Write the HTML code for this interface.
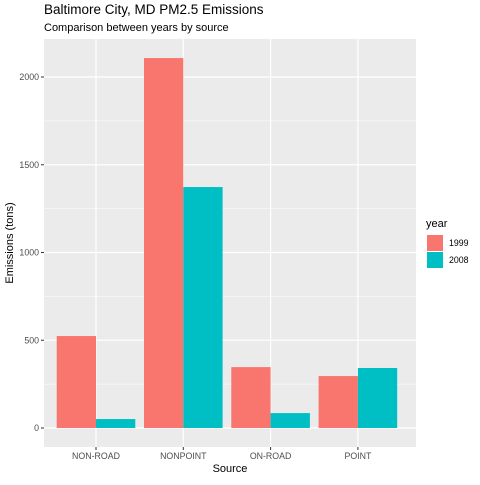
<!DOCTYPE html>
<html><head><meta charset="utf-8"><style>
body{margin:0;background:#fff;font-family:"Liberation Sans",sans-serif}
</style></head><body>
<svg id="c" width="480" height="480" xmlns="http://www.w3.org/2000/svg">
<text x="44" y="14" font-size="13.5" fill="#000">Baltimore City, MD PM2.5 Emissions</text>
<text x="44" y="31" font-size="11" fill="#000">Comparison between years by source</text>
<rect x="44" y="39" width="372" height="408" fill="#ebebeb"/>
<g id="grid"></g><g id="bars"></g><g id="axes"></g>
<text x="230" y="472" font-size="11" text-anchor="middle">Source</text>
<text transform="translate(13,243) rotate(-90)" font-size="11" text-anchor="middle">Emissions (tons)</text>
<g>
<text x="426" y="227" font-size="11">year</text>
<rect x="427" y="235" width="16" height="16" fill="#f8766d"/>
<text x="449" y="246" font-size="8.8">1999</text>
<rect x="427" y="252" width="16" height="16" fill="#00bfc4"/>
<text x="449" y="263" font-size="8.8">2008</text>
</g>
</svg>
<script>
const categories=["NON-ROAD","NONPOINT","ON-ROAD","POINT"];
const values1999=[524,2108,347,296];
const values2008=[51,1373,85,342];
const yTicks=[0,500,1000,1500,2000];
const NS="http://www.w3.org/2000/svg";
const y=v=>428-v*0.1755;
const x=i=>96+i*87.3;
const grid=document.getElementById('grid'),bars=document.getElementById('bars'),axes=document.getElementById('axes');
function mk(tag,at,parent){const e=document.createElementNS(NS,tag);for(const k in at)e.setAttribute(k,at[k]);parent.appendChild(e);return e;}
for(let i=0;i<yTicks.length-1;i++){const m=(yTicks[i]+yTicks[i+1])/2;const l=mk('line',{x1:44,x2:416,y1:y(m),y2:y(m),stroke:'#fff','stroke-width':0.6},grid);}
{const m=yTicks[yTicks.length-1]+250;if(y(m)>39){const l=mk('line',{x1:44,x2:416,y1:y(m),y2:y(m),stroke:'#fff','stroke-width':0.6},grid);}}
yTicks.forEach(t=>{const l=mk('line',{x1:44,x2:416,y1:y(t),y2:y(t),stroke:'#fff','stroke-width':1.2},grid);
const tk=mk('line',{x1:41,x2:44,y1:y(t),y2:y(t),stroke:'#333'},axes);
const tx=mk('text',{x:39,y:y(t)+3,'font-size':8.8,fill:'#4d4d4d','text-anchor':'end'},axes);tx.textContent=t;});
categories.forEach((c,i)=>{const l=mk('line',{x1:x(i),x2:x(i),y1:39,y2:447,stroke:'#fff','stroke-width':1.2},grid);
const a=mk('rect',{x:x(i)-39.3,y:y(values1999[i]),width:39.3,height:y(0)-y(values1999[i]),fill:'#f8766d'},bars);
const b=mk('rect',{x:x(i),y:y(values2008[i]),width:39.3,height:y(0)-y(values2008[i]),fill:'#00bfc4'},bars);
const tk=mk('line',{x1:x(i),x2:x(i),y1:447,y2:450,stroke:'#333'},axes);
const tx=mk('text',{x:x(i),y:459,'font-size':8.8,fill:'#4d4d4d','text-anchor':'middle'},axes);tx.textContent=c;});
</script>
</body></html>
